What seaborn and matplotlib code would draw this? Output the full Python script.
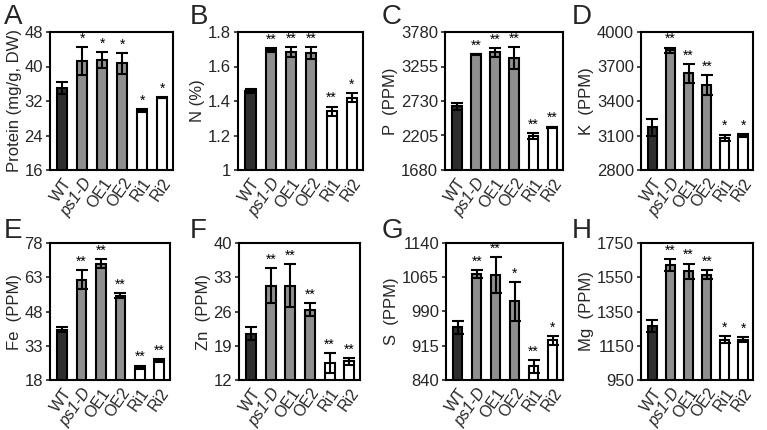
import matplotlib
matplotlib.use("Agg")
import matplotlib.pyplot as plt
import seaborn as sns
import pandas as pd
import numpy as np

sns.set_theme(style="white")
plt.rcParams['font.family'] = ['Liberation Sans', 'DejaVu Sans']

categories = ["WT", "ps1-D", "OE1", "OE2", "Ri1", "Ri2"]

protein = [35.0, 41.3, 41.5, 40.7, 29.8, 32.8]
protein_err = [1.3, 3.3, 1.8, 2.5, 0.3, 0.2]
protein_sig = ["", "*", "*", "*", "*", "*"]

nitrogen = [1.46, 1.695, 1.685, 1.68, 1.34, 1.42]
nitrogen_err = [0.012, 0.01, 0.03, 0.035, 0.028, 0.028]
nitrogen_sig = ["", "**", "**", "**", "**", "*"]

phos = [2650, 3440, 3470, 3380, 2200, 2330]
phos_err = [50, 10, 70, 170, 45, 10]
phos_sig = ["", "**", "**", "**", "**", "**"]

potas = [3170, 3840, 3640, 3540, 3080, 3100]
potas_err = [70, 25, 80, 85, 28, 10]
potas_sig = ["", "**", "**", "**", "*", "*"]

iron = [40.0, 62.0, 69.0, 55.0, 23.5, 26.5]
iron_err = [1.0, 4.0, 2.0, 1.2, 0.8, 0.5]
iron_sig = ["", "**", "**", "**", "**", "**"]

zinc = [21.5, 31.3, 31.3, 26.4, 15.5, 15.8]
zinc_err = [1.3, 3.6, 4.4, 1.4, 2.0, 0.7]
zinc_sig = ["", "**", "**", "**", "**", "**"]

sulfur = [955, 1072, 1070, 1012, 870, 927]
sulfur_err = [15, 8, 40, 42, 14, 10]
sulfur_sig = ["", "**", "**", "*", "**", "*"]

magn = [1265, 1620, 1585, 1565, 1185, 1185]
magn_err = [35, 35, 45, 25, 20, 15]
magn_sig = ["", "**", "**", "**", "*", "*"]

panels = [
    ("A", "Protein (mg/g, DW)", protein, protein_err, protein_sig, [16, 24, 32, 40, 48]),
    ("B", "N (%)", nitrogen, nitrogen_err, nitrogen_sig, [1, 1.2, 1.4, 1.6, 1.8]),
    ("C", "P  (PPM)", phos, phos_err, phos_sig, [1680, 2205, 2730, 3255, 3780]),
    ("D", "K  (PPM)", potas, potas_err, potas_sig, [2800, 3100, 3400, 3700, 4000]),
    ("E", "Fe  (PPM)", iron, iron_err, iron_sig, [18, 33, 48, 63, 78]),
    ("F", "Zn  (PPM)", zinc, zinc_err, zinc_sig, [12, 19, 26, 33, 40]),
    ("G", "S  (PPM)", sulfur, sulfur_err, sulfur_sig, [840, 915, 990, 1065, 1140]),
    ("H", "Mg  (PPM)", magn, magn_err, magn_sig, [950, 1150, 1350, 1550, 1750]),
]

bar_colors = ["#2e2e2e", "#8f8f8f", "#8f8f8f", "#8f8f8f", "#ffffff", "#ffffff"]

W, H = 767, 430
fig = plt.figure(figsize=(W / 100, H / 100), dpi=100)

# pixel boxes: left, right, top, bottom
boxes = [
    (50, 173, 32, 170), (238, 363, 32, 170), (445, 563, 32, 170), (641, 753, 32, 170),
    (50, 170, 243, 380), (239, 360, 243, 380), (446, 563, 243, 380), (641, 753, 243, 380),
]
letter_pos = [(4, 4), (190, 4), (382, 4), (572, 4), (4, 218), (190, 218), (382, 218), (572, 218)]

for (letter, ylabel, vals, errs, sigs, ticks), (l, r, t, b), (lx, ly) in zip(panels, boxes, letter_pos):
    ax = fig.add_axes([l / W, 1 - b / H, (r - l) / W, (b - t) / H])
    df = pd.DataFrame({"cat": categories, "val": vals})
    sns.barplot(data=df, x="cat", y="val", hue="cat", palette=bar_colors, legend=False,
                errorbar=None, width=0.5, edgecolor="black", linewidth=1.5, ax=ax)
    x = np.arange(len(categories))
    ax.errorbar(x, vals, yerr=errs, fmt="none", ecolor="black", elinewidth=1.5,
                capsize=4.5, capthick=1.5)
    span = ticks[-1] - ticks[0]
    for xi, v, e, s in zip(x, vals, errs, sigs):
        if s:
            ax.text(xi, v + e + span * 0.01, s, ha="center", va="bottom", fontsize=10, color="black")
    ax.set_ylim(ticks[0], ticks[-1])
    ax.set_yticks(ticks)
    ax.set_yticklabels([("%g" % tv) for tv in ticks], fontsize=12)
    ax.set_xlim(-0.62, 5.55)
    ax.set_xlabel("")
    ax.set_ylabel(ylabel, fontsize=12, labelpad=2)
    ax.set_xticks(x)
    labels = ax.set_xticklabels(categories, rotation=55, ha="right", rotation_mode="anchor", fontsize=11.5)
    labels[1].set_style("italic")
    ax.tick_params(axis="x", length=0, pad=4)
    ax.tick_params(axis="y", length=3, width=1.2, pad=2, direction="out", left=True)
    for sp in ax.spines.values():
        sp.set_linewidth(1.5)
        sp.set_color("black")
    fig.text(lx / W, 1 - ly / H, letter, fontsize=20, ha="left", va="top")

fig.savefig("out.png", dpi=100)
